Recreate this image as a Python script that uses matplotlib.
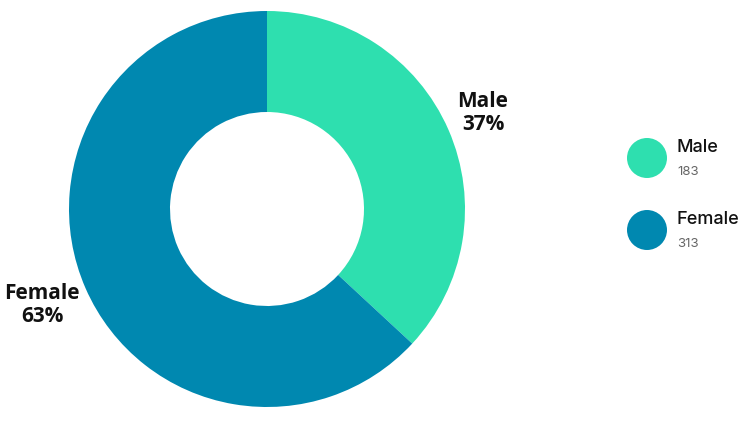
import matplotlib.pyplot as plt
from matplotlib.patches import Circle

labels = ['Male', 'Female']
counts = [183, 313]
colors = ['#2EDFAF', '#0088B0']

total = sum(counts)
pcts = [round(c / total * 100) for c in counts]

H = 422
fig = plt.figure(figsize=(7.5, 4.22), dpi=100)
ax = fig.add_axes([0, 0, 1, 1])

ax.pie(counts, colors=colors, startangle=90, counterclock=False,
       center=(267, H - 209), radius=198,
       wedgeprops={'width': 101, 'linewidth': 0}, frame=True)
ax.set_xlim(0, 750)
ax.set_ylim(0, H)
ax.set_aspect('equal')
ax.axis('off')

# slice labels
label_pos = [(483, 113), (42, 305)]
for (x, y), lab, p in zip(label_pos, labels, pcts):
    ax.text(x, H - y, f"{lab}\n{p}%", ha='center', va='center', fontsize=15,
            fontweight='bold', family='Open Sans', linespacing=1.15, color='#111111')

# legend
leg_y = [158, 230]
for y, lab, c, col in zip(leg_y, labels, counts, colors):
    ax.add_patch(Circle((647, H - y), 20, color=col, lw=0))
    ax.text(676, H - y + 10, lab, ha='left', va='center', fontsize=13,
            family='Inter', fontweight='medium', color='#111111')
    ax.text(677, H - y - 14, str(c), ha='left', va='center', fontsize=9.5,
            family='Inter', color='#666666')

fig.savefig('out.png', dpi=100)
